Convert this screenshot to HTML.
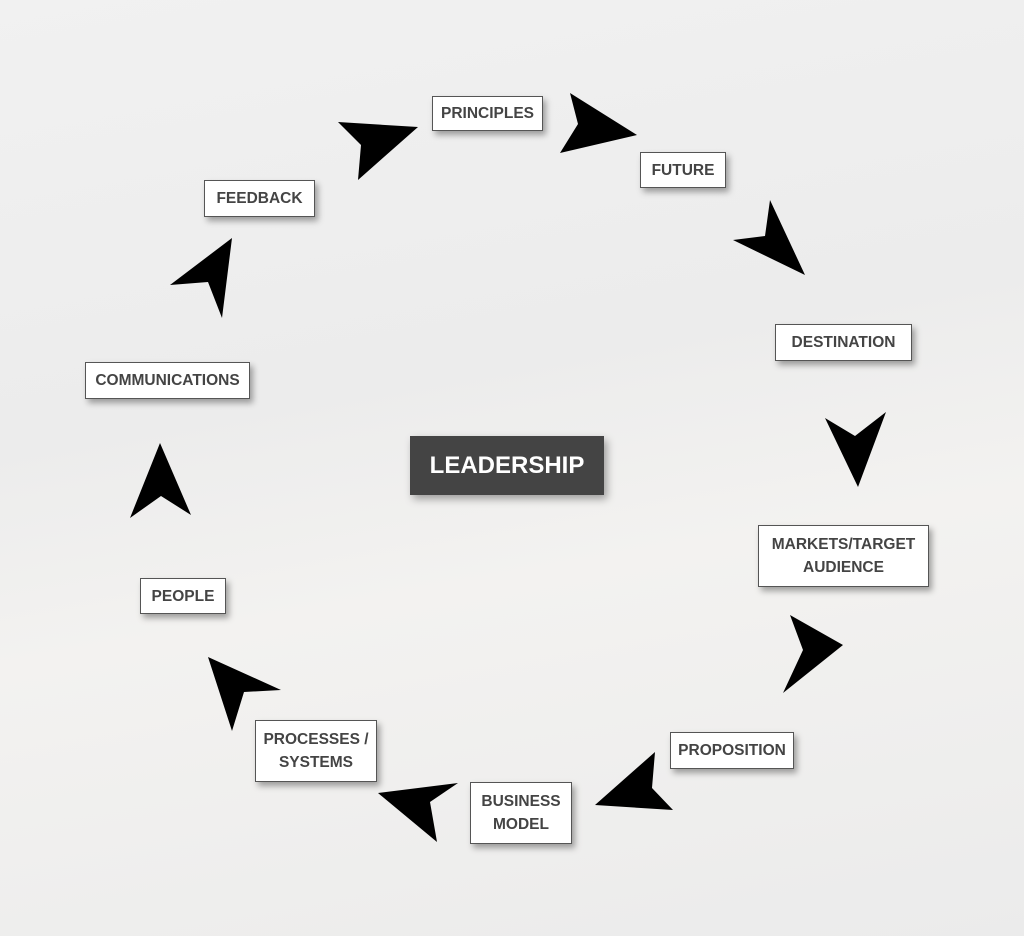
<!DOCTYPE html>
<html><head><style>
body{margin:0;width:1024px;height:936px;overflow:hidden;background:linear-gradient(170deg,#f1f1f1 0%,#ececec 40%,#f3f2f0 60%,#ebebeb 100%);font-family:"Liberation Sans",sans-serif;position:relative}
.b{position:absolute;background:#fff;border:1.5px solid #555;box-shadow:3px 4px 6px rgba(0,0,0,.35);display:flex;align-items:center;justify-content:center;text-align:center;font-weight:bold;font-size:15.5px;color:#444;line-height:23px;box-sizing:border-box}
.l{position:absolute;left:410px;top:436px;width:194px;height:59px;background:#444;color:#fff;font-weight:bold;font-size:24px;display:flex;align-items:center;justify-content:center;box-shadow:3px 4px 8px rgba(0,0,0,.35)}
svg{position:absolute;left:0;top:0}
</style></head><body>
<svg width="1024" height="936"><g fill="#000">
<polygon points="418,127 338,122 361,145 358,180"/>
<polygon points="637,135 570,93 578,124 560,153"/>
<polygon points="805,275 733,240 765,236 770,200"/>
<polygon points="858,487 825,418 855,436 886,412"/>
<polygon points="843,645 790,615 803,650 783,693"/>
<polygon points="595,805 655,752 652,788 673,810"/>
<polygon points="378,793 458,783 430,802 437,842"/>
<polygon points="208,657 281,690 244,692 232,731"/>
<polygon points="160,443 130,518 161,496 191,515"/>
<polygon points="232,238 170,285 208,282 222,318"/>
</g></svg>
<div class="b" style="left:432px;top:96px;width:111px;height:35px">PRINCIPLES</div>
<div class="b" style="left:640px;top:152px;width:86px;height:36px">FUTURE</div>
<div class="b" style="left:775px;top:324px;width:137px;height:37px">DESTINATION</div>
<div class="b" style="left:758px;top:525px;width:171px;height:62px">MARKETS/TARGET<br>AUDIENCE</div>
<div class="b" style="left:670px;top:732px;width:124px;height:37px">PROPOSITION</div>
<div class="b" style="left:470px;top:782px;width:102px;height:62px">BUSINESS<br>MODEL</div>
<div class="b" style="left:255px;top:720px;width:122px;height:62px">PROCESSES /<br>SYSTEMS</div>
<div class="b" style="left:140px;top:578px;width:86px;height:36px">PEOPLE</div>
<div class="b" style="left:85px;top:362px;width:165px;height:37px">COMMUNICATIONS</div>
<div class="b" style="left:204px;top:180px;width:111px;height:37px">FEEDBACK</div>
<div class="l">LEADERSHIP</div>
</body></html>
